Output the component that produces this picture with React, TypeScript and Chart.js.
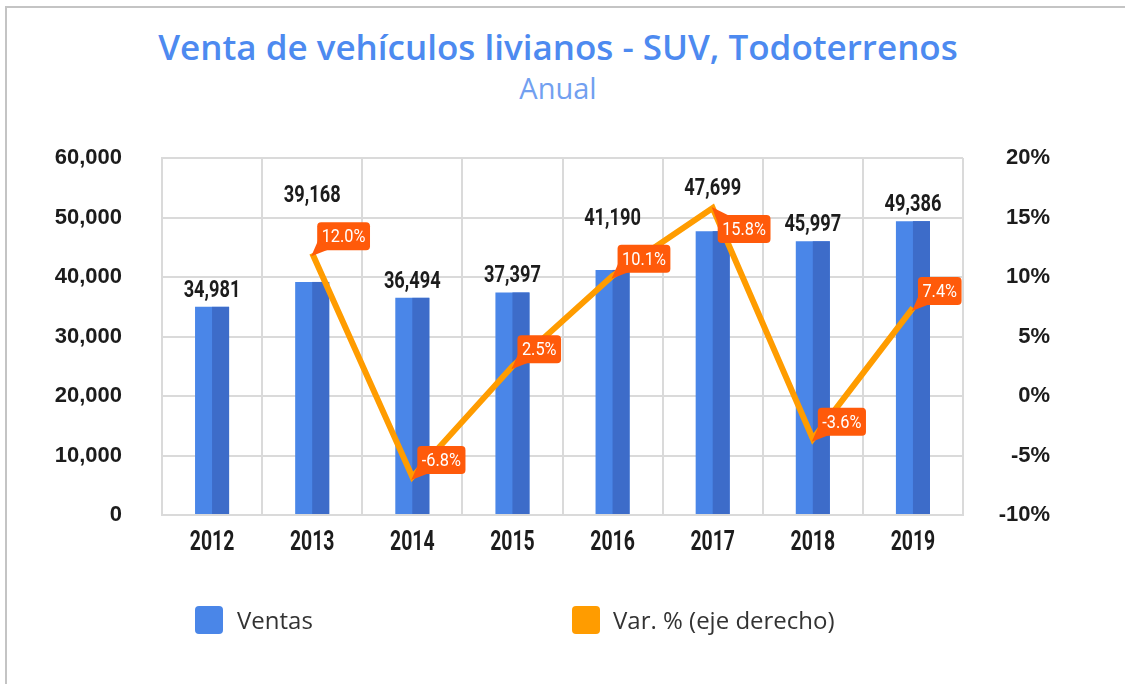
import React, { useEffect, useRef } from "react";
import { Chart, registerables } from "chart.js";

Chart.register(...registerables);

// ---- data ----
const years = ["2012", "2013", "2014", "2015", "2016", "2017", "2018", "2019"];
const ventas = [34981, 39168, 36494, 37397, 41190, 47699, 45997, 49386];
const variacion: (number | null)[] = [null, 12.0, -6.8, 2.5, 10.1, 15.8, -3.6, 7.4];
const leftAxis = { min: 0, max: 60000, step: 10000 };
const rightAxis = { min: -10, max: 20, step: 5 };

const TITLE = "Venta de vehículos livianos - SUV, Todoterrenos";
const SUBTITLE = "Anual";
const LEGEND_VENTAS = "Ventas";
const LEGEND_VAR = "Var. % (eje derecho)";

// ---- styles ----
const BLUE = "#4a86e8";
const BLUE_DARK = "#3d6cc9";
const ORANGE = "#ff9c00";
const TAG = "#ff5a0a";
const GRID = "#dadada";
const INK = "#1c1c1c";
const COND = 'Roboto, "Noto Sans", sans-serif';

function roundRect(ctx: CanvasRenderingContext2D, x: number, y: number, w: number, h: number, r: number) {
  ctx.beginPath();
  ctx.moveTo(x + r, y);
  ctx.lineTo(x + w - r, y);
  ctx.quadraticCurveTo(x + w, y, x + w, y + r);
  ctx.lineTo(x + w, y + h - r);
  ctx.quadraticCurveTo(x + w, y + h, x + w - r, y + h);
  ctx.lineTo(x + r, y + h);
  ctx.quadraticCurveTo(x, y + h, x, y + h - r);
  ctx.lineTo(x, y + r);
  ctx.quadraticCurveTo(x, y, x + r, y);
  ctx.closePath();
}

// draw horizontally condensed text centred at x
function condText(ctx: CanvasRenderingContext2D, text: string, x: number, y: number, sx: number) {
  ctx.save();
  ctx.translate(x, y);
  ctx.scale(sx, 1);
  ctx.textAlign = "center";
  ctx.fillText(text, 0, 0);
  ctx.restore();
}

const twoTonePlugin = {
  id: "twoTone",
  afterDatasetDraw(chart: any, args: any) {
    if (args.index !== 0) return;
    const ctx = chart.ctx;
    const meta = chart.getDatasetMeta(0);
    ctx.save();
    ctx.fillStyle = BLUE_DARK;
    meta.data.forEach((bar: any) => {
      const { x, y, base, width } = bar.getProps(["x", "y", "base", "width"], true);
      ctx.fillRect(x, y, width / 2, base - y);
    });
    ctx.restore();
  },
};

const xTicksPlugin = {
  id: "xTicksCond",
  afterDraw(chart: any) {
    const ctx = chart.ctx;
    const xs = chart.scales.x;
    ctx.save();
    ctx.font = `bold 27px ${COND}`;
    ctx.fillStyle = INK;
    ctx.textBaseline = "alphabetic";
    xs.ticks.forEach((t: any, i: number) => {
      const x = xs.getPixelForTick(i);
      condText(ctx, String(chart.data.labels[t.value ?? i]), x, xs.top + 35, 0.72);
    });
    ctx.restore();
  },
};

const labelsPlugin = {
  id: "labels",
  afterDatasetsDraw(chart: any) {
    const ctx = chart.ctx;
    const barMeta = chart.getDatasetMeta(0);
    const lineMeta = chart.getDatasetMeta(1);
    const vals = chart.data.datasets[1].data as (number | null)[];
    const numeric = vals.filter((v) => v !== null) as number[];
    const maxV = Math.max(...numeric);
    const boxes: any[] = [];
    const SX_TAG = 0.86;
    ctx.save();
    ctx.font = `19px ${COND}`;
    vals.forEach((v, i) => {
      if (v === null) { boxes[i] = null; return; }
      const p = lineMeta.data[i];
      const px = p.x, py = p.y;
      const text = v.toFixed(1) + "%";
      const w = ctx.measureText(text).width * SX_TAG + 9;
      const h = 28;
      const below = v === maxV;
      const bx = px + 5;
      const by = below ? py + 7 : py - 3 - h;
      ctx.fillStyle = TAG;
      roundRect(ctx, bx, by, w, h, 4);
      ctx.fill();
      ctx.beginPath();
      if (below) {
        ctx.moveTo(px - 1, py - 1);
        ctx.lineTo(bx + 1, by + 10);
        ctx.lineTo(bx + 12, by + 1);
      } else {
        ctx.moveTo(px - 1, py + 3);
        ctx.lineTo(bx + 1, by + h - 10);
        ctx.lineTo(bx + 12, by + h - 1);
      }
      ctx.closePath();
      ctx.fill();
      ctx.fillStyle = "#ffffff";
      ctx.textBaseline = "middle";
      condText(ctx, text, bx + w / 2, by + h / 2 + 1, SX_TAG);
      boxes[i] = { x1: bx, x2: bx + w, y1: by, y2: by + h, py };
    });

    const SX_VAL = 0.76;
    ctx.font = `bold 24px ${COND}`;
    ctx.fillStyle = INK;
    ctx.textBaseline = "alphabetic";
    const values = chart.data.datasets[0].data as number[];
    values.forEach((v, i) => {
      const bar = barMeta.data[i];
      const text = v.toLocaleString("en-US");
      const tw = ctx.measureText(text).width * SX_VAL;
      let bottom = bar.y - 10;
      const b = boxes[i];
      if (b) {
        const l1 = bar.x - tw / 2, l2 = bar.x + tw / 2;
        const t1 = bottom - 17;
        const overlapX = l1 < b.x2 && l2 > b.x1;
        const overlapY = t1 < b.y2 && bottom > b.y1 - 4;
        if ((overlapX && overlapY) || b.py < bottom) {
          bottom = Math.min(b.y1 - 20, b.py - 8);
        }
      }
      condText(ctx, text, bar.x, bottom, SX_VAL);
    });
    ctx.restore();
  },
};

export default function App() {
  const ref = useRef<HTMLCanvasElement | null>(null);

  useEffect(() => {
    if (!ref.current) return;
    const chart = new Chart(ref.current, {
      type: "bar",
      data: {
        labels: years,
        datasets: [
          {
            type: "bar",
            label: LEGEND_VENTAS,
            data: ventas,
            backgroundColor: BLUE,
            yAxisID: "y",
            barPercentage: 0.34,
            categoryPercentage: 1,
            order: 1,
          },
          {
            type: "line",
            label: LEGEND_VAR,
            data: variacion,
            borderColor: ORANGE,
            backgroundColor: ORANGE,
            borderWidth: 6,
            pointRadius: 0,
            tension: 0,
            yAxisID: "y1",
            order: 0,
          },
        ],
      } as any,
      options: {
        responsive: false,
        animation: false,
        layout: { padding: { top: 158, left: 0, right: 75, bottom: 129 } },
        plugins: {
          legend: { display: false },
          tooltip: { enabled: false },
          title: { display: false },
        },
        scales: {
          x: {
            offset: true,
            grid: { color: GRID, lineWidth: 2, offset: true, drawTicks: false },
            border: { display: true, color: GRID, width: 2 },
            ticks: {
              color: "rgba(0,0,0,0)",
              font: { family: COND, size: 24, weight: "bold" },
              padding: 12,
            },
            afterFit: (s: any) => { s.height = 40; },
          },
          y: {
            position: "left",
            min: leftAxis.min,
            max: leftAxis.max,
            ticks: {
              stepSize: leftAxis.step,
              color: INK,
              font: { family: '"Liberation Sans", Arial, sans-serif', size: 22, weight: "bold" },
              padding: 40,
              callback: (v: any) => Number(v).toLocaleString("en-US"),
            },
            grid: { color: GRID, lineWidth: 2, drawTicks: false },
            border: { display: true, color: GRID, width: 2 },
            afterFit: (s: any) => { s.width = 162; },
          },
          y1: {
            position: "right",
            min: rightAxis.min,
            max: rightAxis.max,
            ticks: {
              stepSize: rightAxis.step,
              color: INK,
              font: { family: '"Liberation Sans", Arial, sans-serif', size: 22, weight: "bold" },
              crossAlign: "far",
              callback: (v: any) => `${v}%`,
            },
            grid: { display: false, drawTicks: false },
            border: { display: false },
            afterFit: (s: any) => { s.width = 87; },
          },
        },
      } as any,
      plugins: [twoTonePlugin, labelsPlugin, xTicksPlugin],
    });
    return () => chart.destroy();
  }, []);

  const legendText: React.CSSProperties = {
    position: "absolute",
    top: 606,
    height: 28,
    lineHeight: "28px",
    fontFamily: '"Open Sans", sans-serif',
    fontSize: 24,
    color: "#333333",
    whiteSpace: "nowrap",
  };
  const box = (left: number, color: string): React.CSSProperties => ({
    position: "absolute",
    left,
    top: 606,
    width: 28,
    height: 28,
    borderRadius: 4,
    background: color,
  });

  return (
    <div style={{ position: "absolute", left: 0, top: 0, width: 1125, height: 684, background: "#ffffff", overflow: "hidden" }}>
      <div style={{ position: "absolute", left: 5, top: 6, right: 0, bottom: 0, borderLeft: "2px solid #c4c4c4", borderTop: "2px solid #c4c4c4" }} />
      <div style={{ position: "absolute", left: 0, top: 25, width: 1116, height: 44, lineHeight: "44px", textAlign: "center", fontFamily: '"Open Sans", sans-serif', fontWeight: 600, fontSize: 35, color: "#4d8af0", whiteSpace: "nowrap" }}>{TITLE}</div>
      <div style={{ position: "absolute", left: 0, top: 71, width: 1116, height: 34, lineHeight: "34px", textAlign: "center", fontFamily: '"Open Sans", sans-serif', fontWeight: 400, fontSize: 29, color: "#72a0f0", whiteSpace: "nowrap" }}>{SUBTITLE}</div>
      <canvas ref={ref} width={1125} height={684} style={{ position: "absolute", left: 0, top: 0 }} />
      <div style={box(195, BLUE)} />
      <div style={{ ...legendText, left: 237 }}>{LEGEND_VENTAS}</div>
      <div style={box(572, ORANGE)} />
      <div style={{ ...legendText, left: 613 }}>{LEGEND_VAR}</div>
    </div>
  );
}
